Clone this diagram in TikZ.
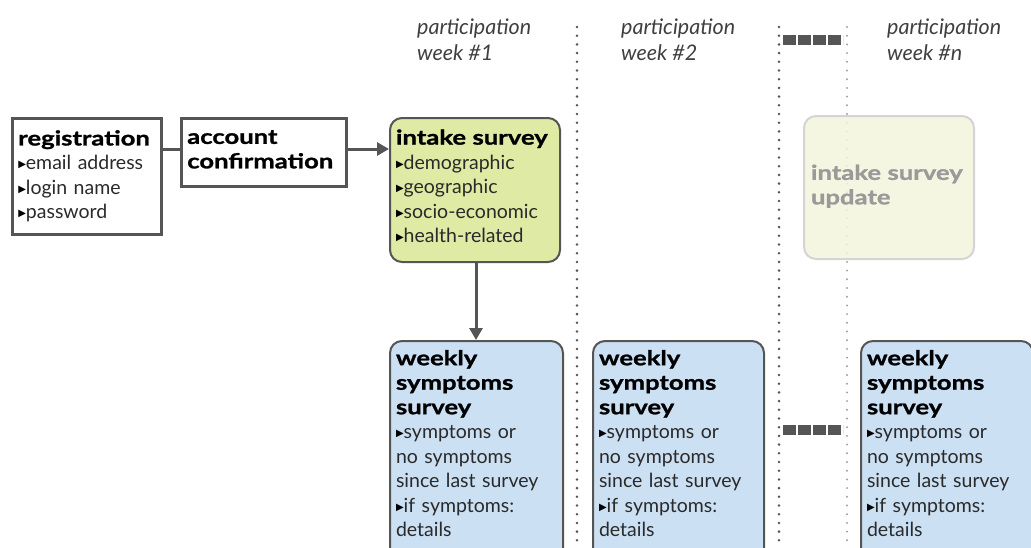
\documentclass[tikz,border=0pt]{standalone}
\usepackage{fontspec}
\setmainfont{Lato}
\newfontfamily\heavy[FakeBold=1.2,FakeStretch=1.25]{Lato}
\newfontfamily\dejavu{DejaVu Sans}
\usetikzlibrary{arrows.meta}
\definecolor{edge}{HTML}{555555}
\definecolor{txt}{HTML}{2A2A2A}
\definecolor{intakefill}{HTML}{DFEAA4}
\definecolor{weekfill}{HTML}{CCE0F4}
\definecolor{fadefill}{HTML}{F2F5DC}
\definecolor{fadeedge}{HTML}{D4D4D4}
\definecolor{fadetxt}{HTML}{9A9A9A}
\newcommand{\tri}{{\dejavu\fontsize{10}{10}\selectfont\color{black}\raisebox{2pt}{▶}}}
\newcommand{\hd}[1]{{\heavy\bfseries\fontsize{20.5}{24}\selectfont\color{black}#1}}
\tikzset{
  box/.style={draw=edge, line width=2.5pt, anchor=north west, align=left,
    font=\fontsize{19.5}{24.5}\selectfont, text=txt, inner xsep=6pt, inner ysep=5pt},
  rbox/.style={box, rounded corners=12pt, line width=2pt},
  conn/.style={draw=edge, line width=3pt},
  arr/.style={conn, -{Triangle[length=12pt,width=13pt]}},
  dots/.style={draw=edge, line width=2.8pt, line cap=round, dash pattern=on 0pt off 8.7pt},
  ldots/.style={draw=gray!75, line width=2.2pt, line cap=round, dash pattern=on 0pt off 8.7pt},
  blocks/.style={draw=edge, line width=10pt, dash pattern=on 12.5pt off 2.5pt},
  head/.style={anchor=north west, align=left, font=\fontsize{21.5}{26}\selectfont\itshape, text=txt!90, inner sep=0pt}
}
\begin{document}
\begin{tikzpicture}[x=1pt,y=-1pt]
\useasboundingbox (0,0) rectangle (1031,547);
% headers
\node[head] (h1) at (417,19) {participation\\week \#1};
\node[head] (h2) at (621,19) {participation\\week \#2};
\node[head] (hn) at (887,19) {participation\\week \#n};
% dotted separators
\coordinate (d1t) at (577,27); \coordinate (d1b) at (577,547);
\coordinate (d2t) at (779,27); \coordinate (d2b) at (779,547);
\coordinate (d3t) at (847,27); \coordinate (d3b) at (847,547);
\draw[dots] (d1t) -- (d1b);
\draw[dots] (d2t) -- (d2b);
\draw[ldots] (d3t) -- (d3b);
% ellipsis blocks
\coordinate (b1l) at (783,40); \coordinate (b1r) at (843,40);
\coordinate (b2l) at (783,430); \coordinate (b2r) at (843,430);
\draw[blocks] (b1l) -- (b1r);
\draw[blocks] (b2l) -- (b2r);
% faded update box
\node[rbox, draw=fadeedge, fill=fadefill, fill opacity=0.85, text opacity=1, minimum width=170pt, minimum height=143pt, text width=156pt, inner xsep=7pt] (upd) at (803,115)
  {{\heavy\bfseries\fontsize{20.5}{24}\selectfont\color{fadetxt}intake survey\\update}\\[-18.5pt]\mbox{}};
% registration
\node[box, minimum width=149pt, minimum height=116pt, text width=137pt] (reg) at (11,117)
  {\hd{registration}\\\tri email address\\\tri login name\\\tri password};
\node[box, minimum width=165pt, minimum height=68pt, text width=153pt] (acc) at (180,117)
  {\hd{account}\\\hd{confirmation}\\[-18.5pt]\mbox{}};
% intake
\node[rbox, fill=intakefill, minimum width=170pt, minimum height=144pt, text width=158pt, inner xsep=6pt] (int) at (389,117)
  {\hd{intake survey}\\\tri demographic\\\tri geographic\\\tri socio-economic\\\tri health-related\\[-16.5pt]\mbox{}};
% weekly boxes
\node[rbox, fill=weekfill, minimum width=173pt, text width=161pt, inner ysep=9pt] (w1) at (389,340)
  {\hd{weekly}\\\hd{symptoms}\\\hd{survey}\\\tri symptoms or\\no symptoms\\since last survey\\\tri if symptoms:\\details\\\mbox{}};
\node[rbox, fill=weekfill, minimum width=171pt, text width=159pt, inner ysep=9pt] (w2) at (592,340)
  {\hd{weekly}\\\hd{symptoms}\\\hd{survey}\\\tri symptoms or\\no symptoms\\since last survey\\\tri if symptoms:\\details\\\mbox{}};
\node[rbox, fill=weekfill, minimum width=172pt, text width=160pt, inner ysep=9pt] (w3) at (860,340)
  {\hd{weekly}\\\hd{symptoms}\\\hd{survey}\\\tri symptoms or\\no symptoms\\since last survey\\\tri if symptoms:\\details\\\mbox{}};
% connectors
\draw[conn] (reg.east |- 0,149) -- (acc.west |- 0,149);
\draw[arr] (acc.east |- 0,149) -- (int.west |- 0,149);
\draw[arr] (int.south -| 476,0) -- (w1.north -| 476,0);
\end{tikzpicture}
\end{document}
